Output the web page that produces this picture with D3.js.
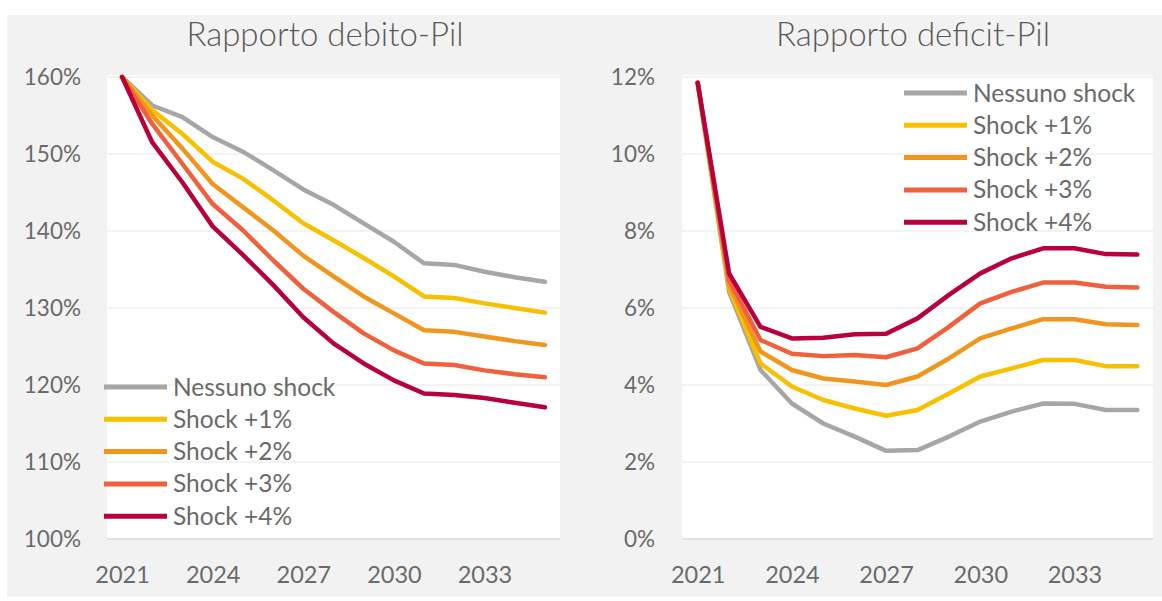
<!DOCTYPE html>
<html>
<head>
<meta charset="utf-8">
<script src="https://cdn.jsdelivr.net/npm/d3@7"></script>
<style>
  body { margin: 0; background: #fff; }
  svg { display: block; font-family: Lato, 'Open Sans', sans-serif; }
</style>
</head>
<body>
<svg id="chart" width="1162" height="601"></svg>
<script>
const years = [2021, 2022, 2023, 2024, 2025, 2026, 2027, 2028, 2029, 2030, 2031, 2032, 2033, 2034, 2035];
const yearTicks = [2021, 2024, 2027, 2030, 2033];

const seriesNames = ['Nessuno shock', 'Shock +1%', 'Shock +2%', 'Shock +3%', 'Shock +4%'];
const seriesColors = ['#a6a6a6', '#f7c000', '#f0961e', '#f0603c', '#b8003a'];

// Rapporto debito-Pil (%)
const debtNoShock = [160, 156.3, 154.8, 152.2, 150.3, 147.9, 145.4, 143.4, 141.0, 138.6, 135.8, 135.6, 134.7, 134.0, 133.4];
const debtShock1 = [160, 155.7, 152.6, 149.0, 146.8, 144.0, 141.0, 138.8, 136.5, 134.1, 131.5, 131.3, 130.6, 130.0, 129.4];
const debtShock2 = [160, 155.0, 150.7, 146.1, 143.1, 140.1, 136.8, 134.1, 131.5, 129.3, 127.1, 126.9, 126.3, 125.7, 125.2];
const debtShock3 = [160, 153.9, 148.7, 143.5, 140.1, 136.2, 132.5, 129.5, 126.7, 124.5, 122.8, 122.6, 121.9, 121.4, 121.0];
const debtShock4 = [160, 151.5, 146.3, 140.6, 136.9, 133.0, 128.8, 125.4, 122.8, 120.6, 118.9, 118.7, 118.3, 117.7, 117.1];
const debtTicks = [100, 110, 120, 130, 140, 150, 160];

// Rapporto deficit-Pil (%)
const deficitNoShock = [11.85, 6.42, 4.39, 3.52, 3.00, 2.66, 2.29, 2.31, 2.66, 3.05, 3.31, 3.52, 3.51, 3.35, 3.35];
const deficitShock1 = [11.85, 6.51, 4.56, 3.96, 3.61, 3.39, 3.20, 3.35, 3.78, 4.22, 4.43, 4.65, 4.65, 4.49, 4.49];
const deficitShock2 = [11.85, 6.60, 4.87, 4.39, 4.17, 4.09, 4.00, 4.22, 4.69, 5.21, 5.47, 5.71, 5.71, 5.58, 5.56];
const deficitShock3 = [11.85, 6.73, 5.17, 4.81, 4.75, 4.78, 4.72, 4.95, 5.51, 6.12, 6.42, 6.66, 6.66, 6.55, 6.53];
const deficitShock4 = [11.85, 6.90, 5.51, 5.21, 5.23, 5.32, 5.33, 5.73, 6.34, 6.90, 7.29, 7.55, 7.55, 7.40, 7.39];
const deficitTicks = [0, 2, 4, 6, 8, 10, 12];

const textColor = '#6a6a6a';
const svg = d3.select('#chart');

svg.append('rect')
  .attr('x', 7)
  .attr('y', 15)
  .attr('width', 1155)
  .attr('height', 582)
  .attr('fill', '#f2f2f2');

function renderPanel(opts) {
  const { title, titleX, series, ticks, left, right, labelX, legendX, legendY } = opts;
  const top = 77;
  const bottom = 539;

  const x = d3.scalePoint()
    .domain(years)
    .range([left, right])
    .padding(0.5);

  const y = d3.scaleLinear()
    .domain([ticks[0], ticks[ticks.length - 1]])
    .range([bottom, top]);

  const g = svg.append('g');

  g.append('rect')
    .attr('x', left)
    .attr('y', top - 2)
    .attr('width', right - left)
    .attr('height', bottom - top + 3)
    .attr('fill', '#fff');

  // gridlines
  g.selectAll('line.grid')
    .data(ticks)
    .enter()
    .append('line')
    .attr('class', 'grid')
    .attr('x1', left)
    .attr('x2', right)
    .attr('y1', d => y(d))
    .attr('y2', d => y(d))
    .attr('stroke', (d, i) => i === 0 ? '#d9d9d9' : '#efefef')
    .attr('stroke-width', 1.5);

  g.append('text')
    .attr('x', titleX)
    .attr('y', 46)
    .attr('text-anchor', 'middle')
    .attr('font-size', '33px')
    .attr('font-weight', 300)
    .attr('fill', '#595959')
    .text(title);

  const yAxis = g.append('g')
    .attr('transform', `translate(${labelX},0)`)
    .call(d3.axisLeft(y).tickValues(ticks).tickSize(0).tickPadding(0).tickFormat(d => d + '%'));
  yAxis.select('.domain').remove();
  yAxis.selectAll('text')
    .attr('font-size', '22.5px')
    .attr('font-family', 'Lato, sans-serif')
    .attr('fill', textColor);

  const xAxis = g.append('g')
    .attr('transform', `translate(0,${bottom})`)
    .call(d3.axisBottom(x).tickValues(yearTicks).tickSize(0).tickPadding(27));
  xAxis.select('.domain').remove();
  xAxis.selectAll('text')
    .attr('font-size', '23.5px')
    .attr('font-family', 'Lato, sans-serif')
    .attr('fill', textColor);

  const line = d3.line()
    .x((d, i) => x(years[i]))
    .y(d => y(d));

  g.selectAll('path.series')
    .data(series)
    .enter()
    .append('path')
    .attr('class', 'series')
    .attr('d', d => line(d))
    .attr('fill', 'none')
    .attr('stroke', (d, i) => seriesColors[i])
    .attr('stroke-width', 4.5)
    .attr('stroke-linejoin', 'round')
    .attr('stroke-linecap', 'round');

  const legend = g.append('g')
    .attr('transform', `translate(${legendX},${legendY})`);

  seriesNames.forEach((name, i) => {
    const row = legend.append('g')
      .attr('transform', `translate(0,${i * 32.3})`);

    row.append('line')
      .attr('x1', 0)
      .attr('x2', 63)
      .attr('stroke', seriesColors[i])
      .attr('stroke-width', 5);

    row.append('text')
      .attr('x', 69)
      .attr('dy', '0.35em')
      .attr('font-size', '24.5px')
      .attr('fill', textColor)
      .text(name);
  });
}

renderPanel({
  title: 'Rapporto debito-Pil',
  titleX: 325,
  series: [debtNoShock, debtShock1, debtShock2, debtShock3, debtShock4],
  ticks: debtTicks,
  left: 107,
  right: 560,
  labelX: 81,
  legendX: 104,
  legendY: 387
});

renderPanel({
  title: 'Rapporto deficit-Pil',
  titleX: 913,
  series: [deficitNoShock, deficitShock1, deficitShock2, deficitShock3, deficitShock4],
  ticks: deficitTicks,
  left: 682,
  right: 1153,
  labelX: 655,
  legendX: 904,
  legendY: 93
});
</script>
</body>
</html>
